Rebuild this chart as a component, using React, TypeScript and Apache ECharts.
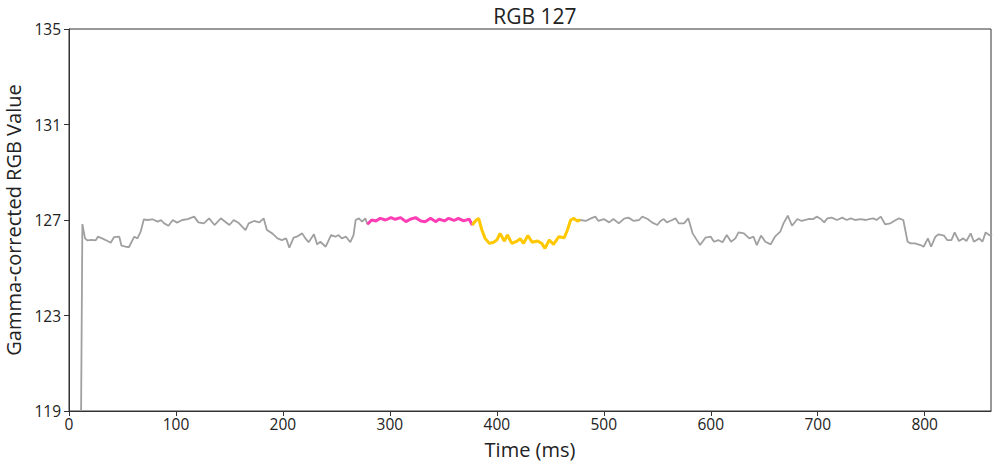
import React, { useEffect, useRef } from "react";
import * as echarts from "echarts";

const titleText = "RGB 127";
const xAxisTitle = "Time (ms)";
const yAxisTitle = "Gamma-corrected RGB Value";

const xTicks = [0, 100, 200, 300, 400, 500, 600, 700, 800];
const yTicks = [119, 123, 127, 131, 135];

const timeMs = [
  11.3, 12.5, 15, 17, 21, 25, 27, 31, 36, 39, 42, 47, 49, 53, 56, 61, 64, 67, 70, 73,
  78, 83, 86, 89, 93, 97, 101, 106, 111, 117, 121, 126, 131, 136, 142, 146, 150, 154, 159, 165,
  168, 173, 178, 182, 185, 190, 195, 199, 203, 206, 210, 213, 218, 221, 224, 229, 232, 235, 240, 245,
  249, 252, 255, 259, 263, 266, 268, 271, 274, 277, 279, 283, 287, 291, 296, 301, 305, 310, 315, 319,
  324, 329, 333, 338, 343, 346, 351, 355, 360, 364, 369, 374, 377, 380, 383, 386, 389, 393, 397, 400,
  403, 407, 410, 414, 419, 422, 425, 429, 433, 438, 442, 445, 449, 453, 458, 463, 466, 469, 472, 475,
  478, 483, 488, 492, 495, 500, 505, 509, 514, 519, 523, 528, 533, 536, 541, 545, 550, 553, 556, 559,
  564, 567, 570, 575, 579, 583, 586, 590, 595, 600, 603, 607, 611, 615, 619, 623, 626, 631, 636, 640,
  643, 647, 651, 656, 660, 665, 668, 672, 676, 681, 685, 692, 696, 699, 703, 706, 709, 713, 718, 723,
  727, 731, 735, 740, 745, 748, 752, 755, 759, 763, 768, 773, 776, 780, 784, 787, 791, 796, 799, 803,
  806, 810, 813, 818, 821, 825, 828, 832, 836, 839, 843, 846, 851, 854, 857, 861, 863,
];

const rgbValues = [
  119.0, 126.83, 126.23, 126.15, 126.17, 126.15, 126.3, 126.23, 126.12, 126.05, 126.28, 126.3, 125.93, 125.88, 125.86, 126.3, 126.23, 126.51, 127.03, 127.0,
  127.03, 126.93, 127.0, 126.86, 126.76, 127.0, 126.89, 127.0, 127.04, 127.14, 126.9, 126.86, 127.07, 126.79, 127.07, 126.93, 126.79, 127.0, 126.86, 126.58,
  126.86, 126.96, 126.9, 127.07, 126.58, 126.44, 126.23, 126.16, 126.23, 125.84, 126.26, 126.3, 126.44, 126.23, 126.07, 126.4, 125.98, 126.09, 125.88, 126.37,
  126.3, 126.37, 126.23, 126.3, 126.07, 126.37, 127.0, 127.07, 126.93, 127.07, 126.82, 127.0, 126.96, 127.07, 127.0, 127.1, 127.03, 127.1, 126.93, 127.03,
  127.1, 126.96, 126.93, 127.07, 126.93, 127.04, 126.96, 127.07, 126.98, 127.07, 126.96, 127.04, 126.79, 126.96, 127.07, 126.58, 126.23, 126.02, 126.07, 126.16,
  126.44, 126.12, 126.37, 126.02, 126.12, 126.21, 126.02, 126.35, 126.07, 126.12, 126.02, 125.81, 126.16, 125.98, 126.3, 126.26, 126.58, 127.0, 127.07, 126.96,
  127.0, 126.96, 127.07, 127.14, 126.96, 127.04, 126.9, 127.04, 126.86, 127.06, 127.1, 126.96, 127.0, 127.14, 127.04, 126.9, 126.79, 126.96, 127.04, 126.9,
  127.0, 127.07, 126.86, 126.86, 127.07, 126.44, 126.23, 125.95, 126.26, 126.3, 126.09, 126.16, 126.07, 126.37, 126.09, 126.23, 126.48, 126.44, 126.23, 126.3,
  125.95, 126.35, 126.09, 125.98, 126.3, 126.51, 126.86, 127.18, 126.76, 127.04, 126.96, 127.05, 127.04, 127.14, 127.04, 126.9, 127.07, 127.1, 127.0, 127.1,
  127.0, 127.07, 127.0, 127.04, 127.0, 127.04, 127.07, 127.0, 127.14, 126.82, 126.86, 127.0, 127.07, 127.0, 126.09, 126.02, 126.02, 125.95, 125.88, 126.23,
  125.88, 126.3, 126.4, 126.35, 126.16, 126.16, 126.48, 126.12, 126.23, 126.12, 126.44, 126.09, 126.23, 126.09, 126.48, 126.35, 126.4,
];

const pinkRange = [279, 377];
const yellowRange = [377, 479];

const FONT = "'Open Sans', 'Noto Sans', sans-serif";

export default function App() {
  const ref = useRef<HTMLDivElement>(null);

  useEffect(() => {
    if (!ref.current) return;
    const chart = echarts.init(ref.current, undefined, { renderer: "svg" });
    const all = timeMs.map((t, i) => [t, rgbValues[i]]);
    const inRange = (r: number[]) => all.filter((p) => p[0] >= r[0] && p[0] <= r[1]);

    chart.setOption({
      animation: false,
      backgroundColor: "#ffffff",
      title: {
        text: titleText,
        left: 530,
        top: 0,
        textAlign: "center",
        textStyle: { fontFamily: FONT, fontSize: 21, fontWeight: "normal", color: "#222" },
      },
      grid: {
        left: 69,
        right: 9,
        top: 29,
        bottom: 54,
        containLabel: false,
        outerBoundsMode: "none",
        show: true,
        borderColor: "#333",
        borderWidth: 1,
        backgroundColor: "transparent",
      },
      xAxis: {
        type: "value",
        min: 0,
        max: 862,
        interval: 100,
        name: xAxisTitle,
        nameLocation: "middle",
        nameGap: 28,
        nameTextStyle: { fontFamily: FONT, fontSize: 20, color: "#222" },
        axisLine: { show: true, lineStyle: { color: "#333" } },
        axisTick: { show: true, length: 5, lineStyle: { color: "#333" }, customValues: xTicks },
        axisLabel: {
          fontFamily: FONT,
          fontSize: 15.5,
          color: "#222",
          margin: 5,
          customValues: xTicks,
        },
        splitLine: { show: false },
      },
      yAxis: {
        type: "value",
        min: 119,
        max: 135,
        interval: 4,
        name: yAxisTitle,
        nameLocation: "middle",
        nameGap: 45,
        nameRotate: 90,
        nameTextStyle: { fontFamily: FONT, fontSize: 20, color: "#222" },
        axisLine: { show: true, lineStyle: { color: "#333" } },
        axisTick: { show: true, length: 5, lineStyle: { color: "#333" }, customValues: yTicks },
        axisLabel: {
          fontFamily: FONT,
          fontSize: 15.5,
          color: "#222",
          margin: 8,
          customValues: yTicks,
        },
        splitLine: { show: false },
      },
      series: [
        {
          type: "line",
          data: all,
          showSymbol: false,
          lineStyle: { color: "#a0a0a0", width: 1.8 },
          itemStyle: { color: "#a0a0a0" },
          clip: true,
          z: 2,
        },
        {
          type: "line",
          data: inRange(pinkRange),
          showSymbol: false,
          lineStyle: { color: "#ff3eb5", width: 3 },
          itemStyle: { color: "#ff3eb5" },
          clip: true,
          z: 3,
        },
        {
          type: "line",
          data: inRange(yellowRange),
          showSymbol: false,
          lineStyle: { color: "#ffc800", width: 3 },
          itemStyle: { color: "#ffc800" },
          clip: true,
          z: 3,
        },
      ],
    });
    return () => chart.dispose();
  }, []);

  return <div ref={ref} style={{ width: 1000, height: 465, position: "absolute", left: 0, top: 0 }} />;
}
